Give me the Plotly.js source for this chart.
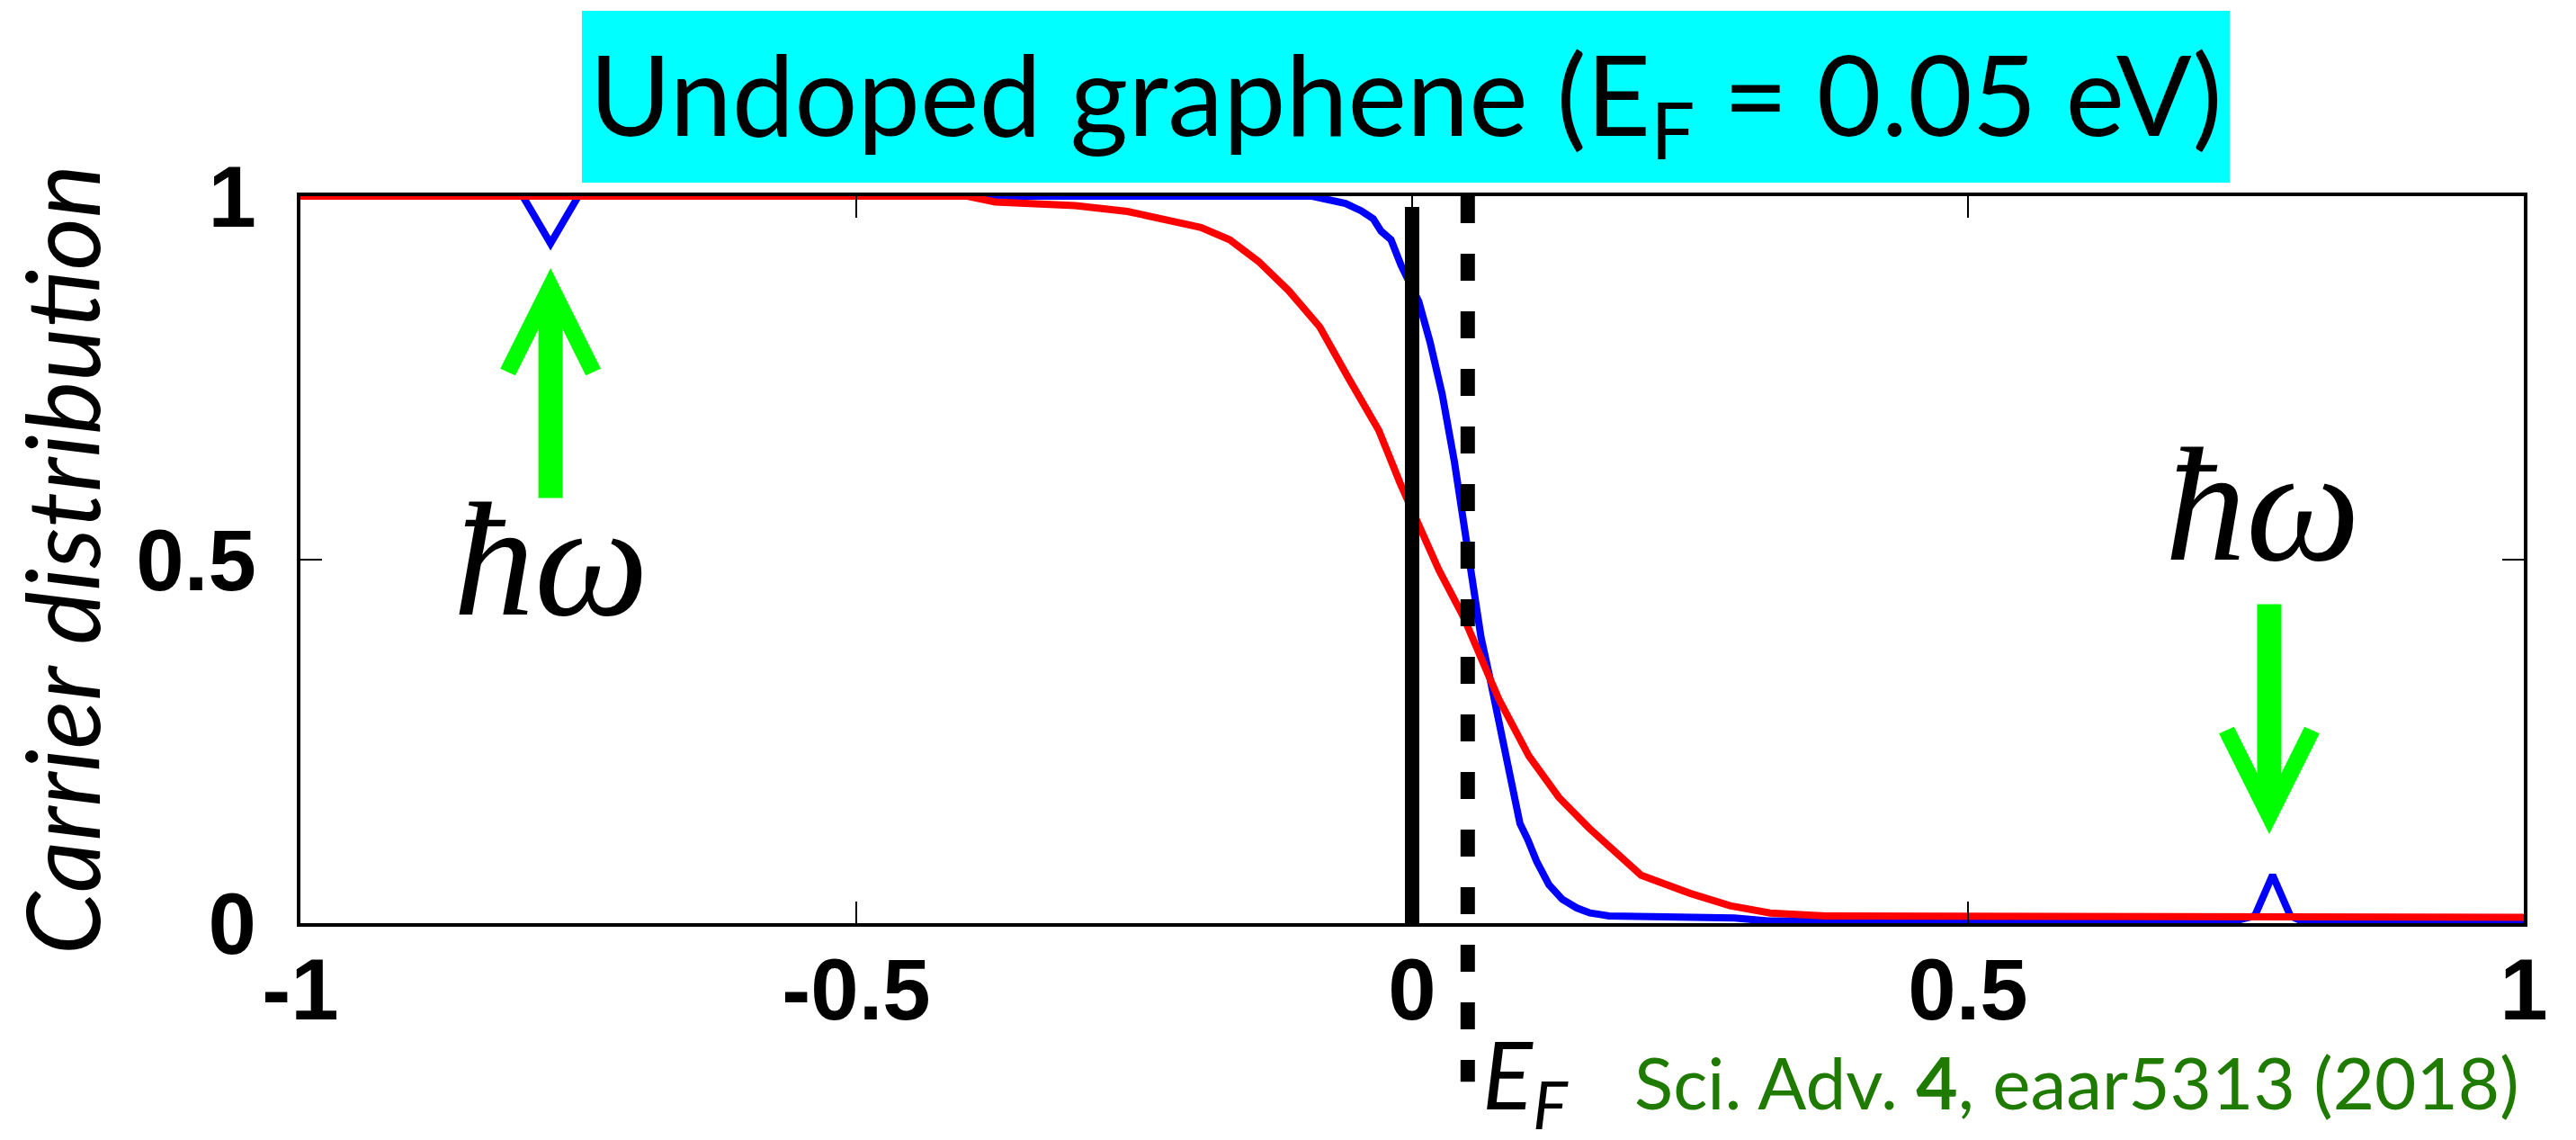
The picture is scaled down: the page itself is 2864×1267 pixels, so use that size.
<!DOCTYPE html>
<html>
<head>
<meta charset="utf-8">
<script src="https://cdn.plot.ly/plotly-3.0.1.min.js"></script>
<style>html,body{margin:0;padding:0;background:#fff;}#chart{width:2864px;height:1267px;}</style>
</head>
<body>
<div id="chart"></div>
<script>
// Energy (eV) and carrier distribution
const energyBlue = [-1.0, -0.80, -0.775, -0.75, -0.09, -0.06, -0.046, -0.035, -0.028, -0.019, -0.010, 0.0, 0.006, 0.016, 0.027, 0.038, 0.046, 0.054, 0.062, 0.070, 0.078, 0.087, 0.097, 0.104, 0.112, 0.123, 0.135, 0.148, 0.160, 0.177, 0.29, 0.32, 0.74, 0.758, 0.774, 0.79, 0.80, 1.0];
const distBlue   = [1.0, 1.0, 0.935, 1.0, 1.0, 0.99, 0.98, 0.969, 0.952, 0.94, 0.905, 0.875, 0.855, 0.80, 0.728, 0.635, 0.55, 0.464, 0.393, 0.337, 0.28, 0.209, 0.137, 0.115, 0.085, 0.053, 0.033, 0.021, 0.014, 0.01, 0.007, 0.003, 0.003, 0.01, 0.066, 0.01, 0.003, 0.003];

const energyRed = [-1.0, -0.40, -0.375, -0.303, -0.256, -0.227, -0.19, -0.164, -0.138, -0.111, -0.083, -0.057, -0.030, -0.011, 0.006, 0.024, 0.046, 0.062, 0.078, 0.105, 0.132, 0.159, 0.186, 0.206, 0.25, 0.286, 0.322, 0.372, 1.0];
const distRed   = [1.0, 1.0, 0.992, 0.987, 0.979, 0.969, 0.957, 0.94, 0.91, 0.87, 0.82, 0.749, 0.678, 0.606, 0.55, 0.486, 0.422, 0.365, 0.308, 0.23, 0.173, 0.131, 0.092, 0.066, 0.041, 0.024, 0.014, 0.01, 0.008];

const xTickVals = [-1, -0.5, 0, 0.5, 1];
const xTickText = ['-1', '-0.5', '0', '0.5', '1'];
const yTickVals = [0, 0.5, 1];
const yTickText = ['0', '0.5', '1'];

const diracPoint = 0;      // solid line
const fermiLevel = 0.05;   // dashed line, E_F
const photonEnergy = 0.775; // ħω markers

const traces = [
  {x: energyBlue, y: distBlue, type: 'scatter', mode: 'lines', line: {color: '#0000ff', width: 8}, showlegend: false, hoverinfo: 'skip'},
  {x: energyRed, y: distRed, type: 'scatter', mode: 'lines', line: {color: '#ff0000', width: 8}, showlegend: false, hoverinfo: 'skip'}
];

const axisCommon = {
  showline: true, linecolor: '#000', linewidth: 4, mirror: 'ticks',
  ticks: 'inside', ticklen: 24, tickwidth: 2, tickcolor: '#000',
  showgrid: false, zeroline: false,
  tickfont: {family: 'Liberation Sans, Arial, sans-serif', size: 96, weight: 'bold', color: '#000'}
};

const layout = {
  width: 2864, height: 1267,
  margin: {l: 334, r: 58, t: 218, b: 241, pad: 0},
  paper_bgcolor: '#fff', plot_bgcolor: '#fff',
  title: {
    text: 'Undoped graphene (E<sub>F</sub> = 0.05 eV)',
    font: {family: 'Lato, sans-serif', size: 124, color: '#000'},
    x: 0.5457, xanchor: 'center', y: 0.915, yanchor: 'middle'
  },
  xaxis: Object.assign({}, axisCommon, {
    range: [-1, 1], tickmode: 'array', tickvals: xTickVals, ticktext: xTickText,
    ticklabelstandoff: -12
  }),
  yaxis: Object.assign({}, axisCommon, {
    range: [0, 1], tickmode: 'array', tickvals: yTickVals, ticktext: yTickText,
    ticklabelstandoff: 26, automargin: true,
    title: {text: 'Carrier distribution', standoff: 16,
            font: {family: 'Lato, sans-serif', size: 112, style: 'italic', color: '#000'}}
  }),
  shapes: [
    {type: 'rect', xref: 'paper', yref: 'paper', x0: 0.1266, x1: 0.8677, y0: 1.0186, y1: 1.255,
     fillcolor: '#00ffff', line: {width: 0}, layer: 'below'},
    {type: 'line', xref: 'x', yref: 'y', x0: diracPoint, x1: diracPoint, y0: 0, y1: 0.985,
     line: {color: '#000', width: 16}, layer: 'above'},
    {type: 'line', xref: 'x', yref: 'paper', x0: fermiLevel, x1: fermiLevel, y0: 1.0, y1: -0.218,
     line: {color: '#000', width: 16, dash: '30px,34px'}, layer: 'above'}
  ],
  annotations: [
    {x: -photonEnergy, y: 0.901, xref: 'x', yref: 'y', ax: 0, ay: 257, text: '', showarrow: true,
     arrowhead: 5, arrowsize: 0.69, arrowwidth: 27, arrowcolor: '#00ff00', standoff: 0},
    {x: photonEnergy - 0.004, y: 0.1225, xref: 'x', yref: 'y', ax: 0, ay: -257, text: '', showarrow: true,
     arrowhead: 5, arrowsize: 0.69, arrowwidth: 27, arrowcolor: '#00ff00', standoff: 0},
    {x: -photonEnergy, y: 0.50, xref: 'x', yref: 'y', text: 'ħω', showarrow: false,
     xanchor: 'center', yanchor: 'middle',
     font: {family: 'Liberation Serif, DejaVu Serif, serif', size: 180, style: 'italic', color: '#000'}},
    {x: photonEnergy - 0.01, y: 0.575, xref: 'x', yref: 'y', text: 'ħω', showarrow: false,
     xanchor: 'center', yanchor: 'middle',
     font: {family: 'Liberation Serif, DejaVu Serif, serif', size: 180, style: 'italic', color: '#000'}},
    {x: fermiLevel, y: -0.216, xref: 'x', yref: 'paper', xanchor: 'left', yanchor: 'middle', xshift: 14,
     text: 'E<sub>F</sub>', showarrow: false,
     font: {family: 'Lato, sans-serif', size: 104, style: 'italic', color: '#000'}},
    {x: 0.599, y: -0.218, xref: 'paper', yref: 'paper', xanchor: 'left', yanchor: 'middle',
     text: 'Sci. Adv. <b>4</b>, eaar5313 (2018)', showarrow: false,
     font: {family: 'Lato, sans-serif', size: 80, color: '#1f7a00'}}
  ]
};

Plotly.newPlot('chart', traces, layout, {staticPlot: true, displayModeBar: false});
</script>
</body>
</html>
